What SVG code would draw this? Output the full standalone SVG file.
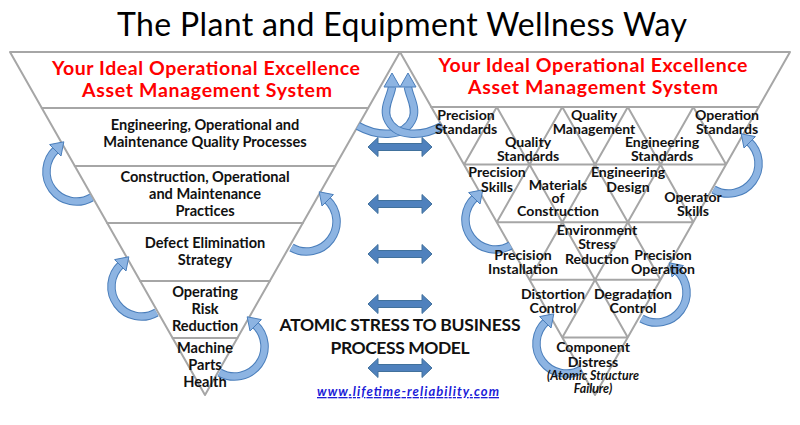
<svg xmlns="http://www.w3.org/2000/svg" xmlns:xlink="http://www.w3.org/1999/xlink" width="800" height="425" viewBox="0 0 800 425">
<style>
.band{fill:#fff;stroke:#a6a6a6;stroke-width:2;stroke-linejoin:round}
.ln{fill:none;stroke:#a6a6a6;stroke-width:2}
.t{font-family:Lato,"Liberation Sans",sans-serif;font-weight:bold;font-size:14.6px;fill:#111;text-anchor:middle}
.r{font-size:14.1px}
.red{fill:#f00;font-size:19.5px}
.big{font-size:17.5px}
.it{font-style:italic;font-size:12.4px}
.url{fill:#1c1cd8;font-style:italic;font-size:13px;text-decoration:underline}
.title{font-family:Lato,"Liberation Sans",sans-serif;font-size:32px;fill:#000;text-anchor:middle}
.co{fill:none;stroke:#4a7ebb;stroke-width:8.5}
.ci{fill:none;stroke:#8db4e2;stroke-width:6.5}
.ch{fill:#8db4e2;stroke:#4a7ebb;stroke-width:1;stroke-linejoin:round}
.da{fill:#4f81bd;stroke:#41719c;stroke-width:1}
</style>
<defs>
<g id="ca">
<path class="co" d="M15,26 A30,30 0 0 1 -20.46,-21.94"/>
<path class="ci" d="M15,26 A30,30 0 0 1 -20.46,-21.94"/>
<polygon class="ch" points="-26.9,-26.9 -12.7,-29.7 -15.5,-15.5"/>
</g>
<polygon id="dbl" class="da" points="-32,0 -22,-9.5 -22,-3.5 22,-3.5 22,-9.5 32,0 22,9.5 22,3.5 -22,3.5 -22,9.5"/>
</defs>
<rect width="800" height="425" fill="#fff"/>
<text class="title" x="402" y="36" textLength="570">The Plant and Equipment Wellness Way</text>

<!-- Left triangle -->
<g id="left-header">
<polygon class="band" points="10,52 400,52 368.2,108 41.8,108"/>
<text class="t red" x="206" y="75" textLength="308">Your Ideal Operational Excellence</text>
<text class="t red" x="207" y="97" textLength="250">Asset Management System</text>
</g>
<g id="left-quality-processes">
<polygon class="band" points="41.8,108 368.2,108 335.2,166 74.8,166"/>
<text class="t" x="205" y="130">Engineering, Operational and</text>
<text class="t" x="205" y="147">Maintenance Quality Processes</text>
</g>
<g id="left-practices">
<polygon class="band" points="74.8,166 335.2,166 302.8,223 107.2,223"/>
<text class="t" x="205" y="182">Construction, Operational</text>
<text class="t" x="205" y="199">and Maintenance</text>
<text class="t" x="205" y="216">Practices</text>
</g>
<g id="left-defect-elimination">
<polygon class="band" points="107.2,223 302.8,223 269.8,281 140.2,281"/>
<text class="t" x="205" y="248">Defect Elimination</text>
<text class="t" x="205" y="265">Strategy</text>
</g>
<g id="left-operating-risk">
<polygon class="band" points="140.2,281 269.8,281 237.4,338 172.6,338"/>
<text class="t" x="205" y="297">Operating</text>
<text class="t" x="205" y="314">Risk</text>
<text class="t" x="205" y="331">Reduction</text>
</g>
<g id="left-machine-parts">
<polygon class="band" points="172.6,338 237.4,338 205,395"/>
<text class="t" x="205" y="353">Machine</text>
<text class="t" x="205" y="370">Parts</text>
<text class="t" x="205" y="387">Health</text>
</g>

<!-- Right triangle -->
<g id="right-header">
<polygon class="band" points="400,52 790,52 758.7,107 431.3,107"/>
<text class="t red" x="593" y="72" textLength="309">Your Ideal Operational Excellence</text>
<text class="t red" x="593" y="94" textLength="250">Asset Management System</text>
</g>
<g id="right-grid">
<polygon class="band" points="431.3,107 758.7,107 595,395"/>
<path class="ln" d="M464.05,164.6H726.05M496.8,222.2H693.3M529.55,279.8H660.55M562.3,337.4H627.8
M496.8,107L627.8,337.4M562.3,107L660.55,279.8M627.8,107L693.3,222.2M693.3,107L726.05,164.6
M496.8,107L464.05,164.6M562.3,107L496.8,222.2M627.8,107L529.55,279.8M693.3,107L562.3,337.4"/>
</g>

<!-- Connectors -->
<g id="connectors">
<use xlink:href="#ca" transform="translate(76.5,171.5)"/>
<use xlink:href="#ca" transform="translate(141.5,286.5)"/>
<use xlink:href="#ca" transform="translate(306.5,221.5) scale(-1,1)"/>
<use xlink:href="#ca" transform="translate(234.5,346.5) scale(-1,1)"/>
<use xlink:href="#ca" transform="translate(728.5,163.5) scale(-1,1)"/>
<use xlink:href="#ca" transform="translate(656.5,292.5) scale(-1,1)"/>
<use xlink:href="#ca" transform="translate(495.5,219.5)"/>
<use xlink:href="#ca" transform="translate(566.5,343.5)"/>
<path class="co" d="M358,126 C378,137 405,138 413,118 C417,107 409,96 408,87"/>
<path class="ci" d="M358,126 C378,137 405,138 413,118 C417,107 409,96 408,87"/>
<polygon class="ch" points="400,87 408,73 416,87"/>
<path class="co" d="M442,126 C422,137 395,138 387,118 C383,107 391,96 392,87"/>
<path class="ci" d="M442,126 C422,137 395,138 387,118 C383,107 391,96 392,87"/>
<polygon class="ch" points="384,87 392,73 400,87"/>
<use xlink:href="#dbl" transform="translate(400,147)"/>
<use xlink:href="#dbl" transform="translate(400,204)"/>
<use xlink:href="#dbl" transform="translate(400,254)"/>
<use xlink:href="#dbl" transform="translate(400,304)"/>
<use xlink:href="#dbl" transform="translate(400,368)"/>
</g>

<g id="precision-standards"><text class="t r" x="466" y="120">Precision</text><text class="t r" x="466" y="134">Standards</text></g>
<g id="quality-standards"><text class="t r" x="528" y="147">Quality</text><text class="t r" x="528" y="161">Standards</text></g>
<g id="quality-management"><text class="t r" x="594" y="120">Quality</text><text class="t r" x="594" y="134">Management</text></g>
<g id="engineering-standards"><text class="t r" x="662" y="147">Engineering</text><text class="t r" x="662" y="161">Standards</text></g>
<g id="operation-standards"><text class="t r" x="727" y="120">Operation</text><text class="t r" x="727" y="134">Standards</text></g>
<g id="precision-skills"><text class="t r" x="497" y="177">Precision</text><text class="t r" x="497" y="192">Skills</text></g>
<g id="materials-of-construction"><text class="t r" x="558" y="190">Materials</text><text class="t r" x="558" y="203">of</text><text class="t r" x="558" y="216">Construction</text></g>
<g id="engineering-design"><text class="t r" x="628" y="177">Engineering</text><text class="t r" x="628" y="192">Design</text></g>
<g id="operator-skills"><text class="t r" x="693" y="202">Operator</text><text class="t r" x="693" y="216">Skills</text></g>
<g id="environment-stress-reduction"><text class="t r" x="597" y="235">Environment</text><text class="t r" x="597" y="249">Stress</text><text class="t r" x="597" y="264">Reduction</text></g>
<g id="precision-installation"><text class="t r" x="523" y="260">Precision</text><text class="t r" x="523" y="274">Installation</text></g>
<g id="precision-operation"><text class="t r" x="663" y="260">Precision</text><text class="t r" x="663" y="274">Operation</text></g>
<g id="distortion-control"><text class="t r" x="553" y="299">Distortion</text><text class="t r" x="553" y="313">Control</text></g>
<g id="degradation-control"><text class="t r" x="633" y="299">Degradation</text><text class="t r" x="633" y="313">Control</text></g>
<g id="component-distress"><text class="t r" x="593" y="352">Component</text><text class="t r" x="593" y="367">Distress</text>
<text class="t it" x="593" y="380">(Atomic Structure</text><text class="t it" x="593" y="393">Failure)</text></g>

<!-- Center -->
<g id="center-model">
<text class="t big" x="400" y="331" textLength="241">ATOMIC STRESS TO BUSINESS</text>
<text class="t big" x="400" y="354" textLength="139">PROCESS MODEL</text>
</g>
<g id="url"><text class="t url" x="408" y="396" textLength="182">www.lifetime-reliability.com</text></g>
</svg>
